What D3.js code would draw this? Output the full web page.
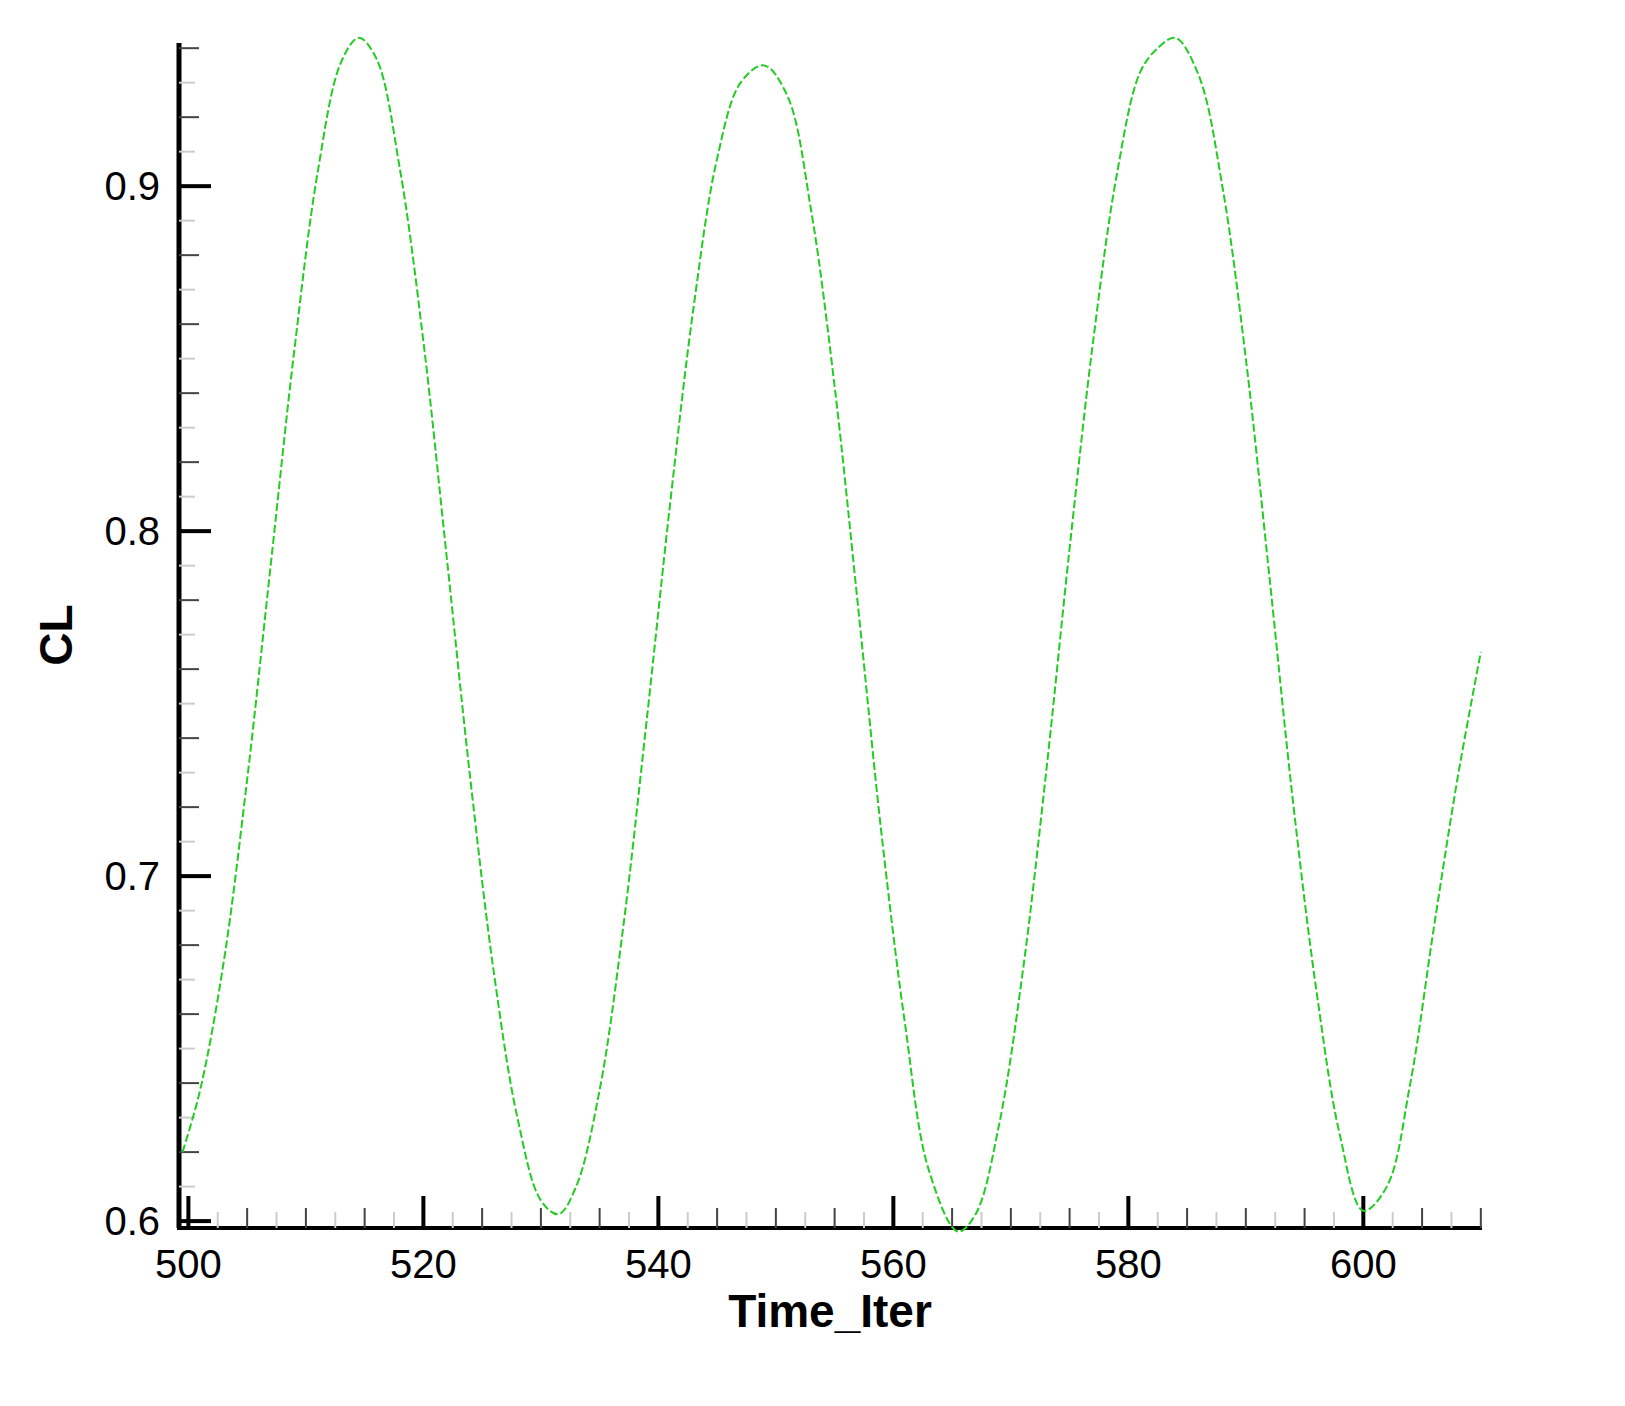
<!DOCTYPE html>
<html><head><meta charset="utf-8">
<script src="https://cdn.jsdelivr.net/npm/d3@7/dist/d3.min.js"></script>
<style>body{margin:0;background:#fff}</style></head>
<body><svg id="c" width="1625" height="1406"></svg>
<script>
const timeIter=[499.5,501,503,505,507,509,511,513,514.5,516,518,520,522,524,526,528,530,531.5,533,535,537,539,541,543,545,547,549,551,553,555,557,559,561,563,565.5,567,569,571,573,575,577,579,581,582.5,584,586,588,590,592,594,596,598,600,602,604,606,608,610];
const cl=[0.620,0.638,0.675,0.728,0.790,0.852,0.904,0.936,0.943,0.937,0.905,0.855,0.792,0.728,0.672,0.630,0.606,0.602,0.610,0.638,0.685,0.745,0.808,0.865,0.908,0.930,0.935,0.926,0.893,0.842,0.778,0.712,0.657,0.615,0.597,0.602,0.628,0.672,0.730,0.795,0.855,0.903,0.933,0.940,0.943,0.932,0.900,0.850,0.787,0.722,0.667,0.625,0.603,0.610,0.640,0.685,0.728,0.765];
const xTicks=[500,520,540,560,580,600];
const yTicks=[0.6,0.7,0.8,0.9];
const svg=d3.select("#c");
const x=d3.scaleLinear().domain([499.2,610.1]).range([179,1482]);
const y=d3.scaleLinear().domain([0.598,0.9415]).range([1228,43]);
const font="Liberation Sans, Arial, sans-serif";
const ax=svg.append("g").attr("stroke","#000");
ax.append("line").attr("x1",179).attr("x2",179).attr("y1",43).attr("y2",1228).attr("stroke-width",5);
ax.append("line").attr("x1",177).attr("x2",1482).attr("y1",1228).attr("y2",1228).attr("stroke-width",4);
// y ticks
d3.range(0.60,0.9401,0.02).forEach(v=>{const major=yTicks.some(t=>Math.abs(t-v)<1e-6);
 ax.append("line").attr("x1",179).attr("x2",179+(major?32:20)).attr("y1",y(v)).attr("y2",y(v)).attr("stroke-width",major?4:2).attr("stroke",major?"#000":"#444");});
d3.range(0.61,0.94,0.02).forEach(v=>ax.append("line").attr("x1",179).attr("x2",195).attr("y1",y(v)).attr("y2",y(v)).attr("stroke","#ccc").attr("stroke-width",2));
// x ticks
d3.range(500,611,5).forEach(v=>{const major=v%20===0;
 ax.append("line").attr("x1",x(v)).attr("x2",x(v)).attr("y1",1228).attr("y2",1228-(major?32:20)).attr("stroke-width",major?4:2).attr("stroke",major?"#000":"#444");});
d3.range(502.5,611,5).forEach(v=>ax.append("line").attr("x1",x(v)).attr("x2",x(v)).attr("y1",1228).attr("y2",1212).attr("stroke","#ccc").attr("stroke-width",2));
svg.selectAll(".yl").data(yTicks).enter().append("text").attr("x",160).attr("y",d=>y(d)+14).attr("text-anchor","end").attr("font-family",font).attr("font-size",40).text(d=>d.toFixed(1));
svg.selectAll(".xl").data(xTicks).enter().append("text").attr("x",d=>x(d)).attr("y",1278).attr("text-anchor","middle").attr("font-family",font).attr("font-size",40).text(d=>d);
svg.append("text").attr("x",830).attr("y",1327).attr("text-anchor","middle").attr("font-family",font).attr("font-size",46).attr("font-weight","bold").text("Time_Iter");
svg.append("text").attr("transform","translate(72,635) rotate(-90)").attr("text-anchor","middle").attr("font-family",font).attr("font-size",46).attr("font-weight","bold").text("CL");
const pts=timeIter.map((t,i)=>[t,cl[i]]);
svg.append("path").datum(pts).attr("fill","none").attr("stroke","#22cc22").attr("stroke-width",2).attr("stroke-dasharray","8,3")
 .attr("d",d3.line().x(d=>x(d[0])).y(d=>y(d[1])).curve(d3.curveCatmullRom));
</script></body></html>
